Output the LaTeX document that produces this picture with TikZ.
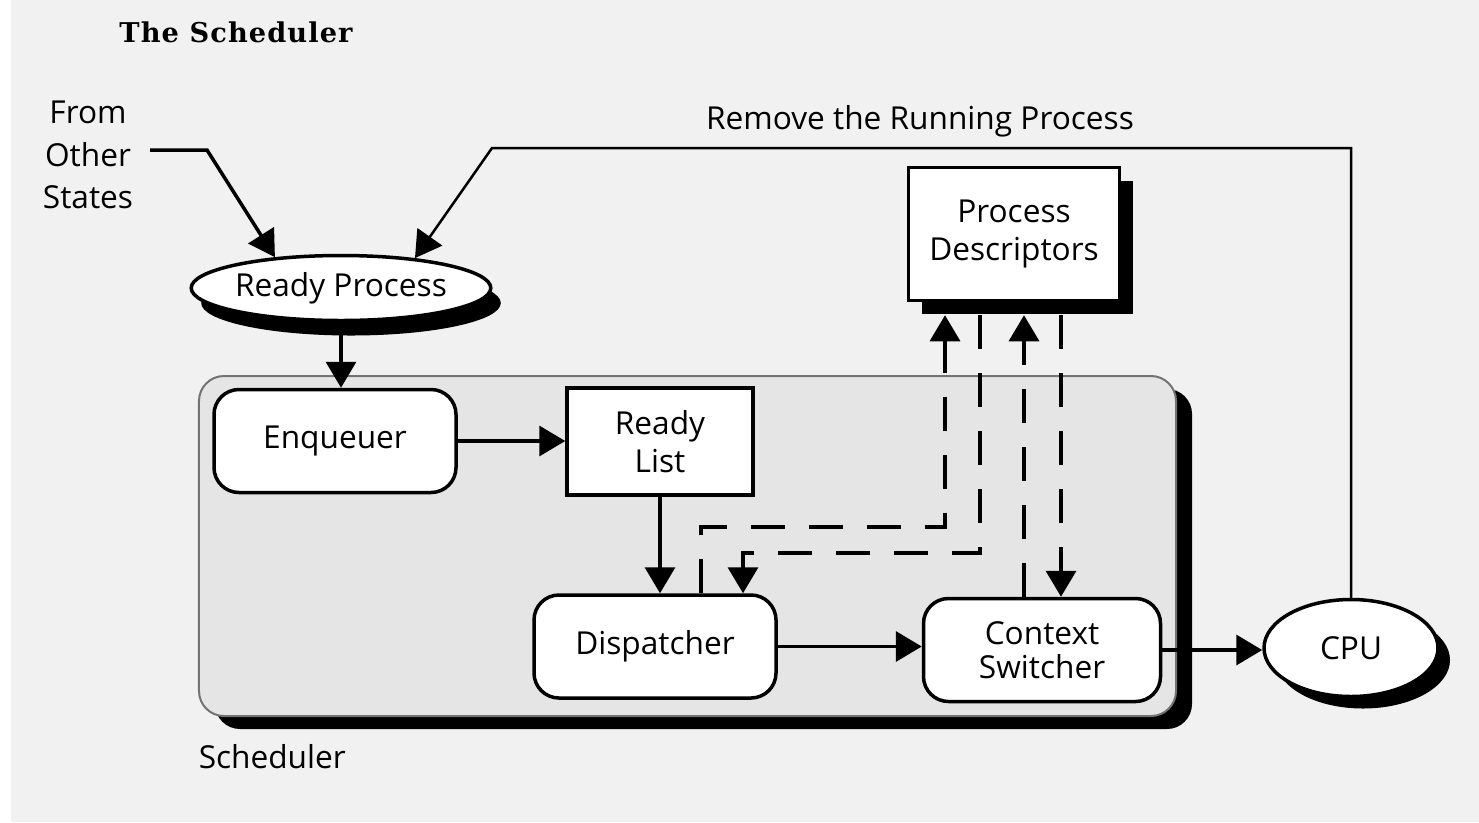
\documentclass[tikz,border=0pt]{standalone}
\usepackage{fontspec}
\setmainfont{Open Sans}
\newfontfamily\titlefont[LetterSpace=4]{DejaVu Serif}
\usetikzlibrary{arrows.meta}
\usetikzlibrary{shapes.geometric}
\usetikzlibrary{shadows}
\definecolor{pg}{RGB}{241,241,241}
\definecolor{bx}{RGB}{229,229,229}

\begin{document}
\begin{tikzpicture}[
    x=0.2mm, y=-0.2mm,
    font=\fontsize{18}{22}\selectfont,
    line width=0.7mm,
    every node/.style={align=center},
    arr/.style={-{Triangle[length=5.2mm,width=6mm]}},
    darr/.style={arr, dash pattern=on 6.8mm off 4.8mm},
    dropped/.style 2 args={
        drop shadow={shadow xshift=#1, shadow yshift=#2, fill=black, opacity=1}
    },
    rbox/.style={
        draw, fill=white, rounded corners=5mm,
        minimum width=48.4mm, minimum height=20.6mm, inner sep=0pt
    },
    sbox/.style={draw, fill=white, rectangle, inner sep=0pt},
    oval/.style={draw, fill=white, ellipse, inner sep=0pt}
]

    \fill[white] (0,0) rectangle (1479,822);
    \fill[pg] (11,0) rectangle (1479,822);
    \useasboundingbox (0,0) rectangle (1479,822);

    \node[font=\titlefont\bfseries\fontsize{15.5}{19}\selectfont] (title)
        at (236,32) {The Scheduler};
    \node[font=\fontsize{18}{24}\selectfont] (others) at (88,155)
        {From\\Other\\States};
    \node (remove) at (920,121) {Remove the Running Process};

    \node[draw=black!55, line width=0.4mm, fill=bx, rounded corners=5mm,
        minimum width=195.4mm, minimum height=68mm,
        dropped={3.2mm}{-2.6mm}] (sched) at (687.5,546) {};
    \node[anchor=west, inner sep=0pt] (schedname) at (197,757) {Scheduler};

    \node[oval, minimum width=59.6mm, minimum height=13mm,
        dropped={2mm}{-3mm}] (ready) at (341,288) {Ready Process};
    \node[sbox, minimum width=42.2mm, minimum height=26.6mm,
        dropped={2.6mm}{-2.6mm}] (pd) at (1014,234) {Process\\Descriptors};
    \node[rbox] (enq) at (335,441) {Enqueuer};
    \node[sbox, minimum width=37.2mm, minimum height=21.4mm]
        (rlist) at (660,441.5) {Ready\\List};
    \node[rbox] (disp) at (655,646.5) {Dispatcher};
    \node[rbox, minimum width=47.4mm] (ctx) at (1042,650)
        {Context\\[-1mm]Switcher};
    \node[oval, minimum width=34.8mm, minimum height=19.4mm,
        dropped={2.4mm}{-2.4mm}] (cpu) at (1351,648) {CPU};

    \coordinate (o1) at (150,150);
    \coordinate (o2) at (207,150);
    \coordinate (r1) at (492,148);
    \draw[arr] (o1) -- (o2) -- (ready.155);
    \draw[arr, line width=0.5mm] (cpu.north) |- (r1) -- (ready.22);

    \draw[arr] (ready.south) -- (ready.south |- enq.north);
    \draw[arr] (enq.east) -- (enq.east -| rlist.west);
    \draw[arr] (rlist.south) -- (rlist.south |- disp.north);
    \draw[arr] (disp.east) -- (disp.east -| ctx.west);
    \draw[arr] (ctx.east) -- (ctx.east -| cpu.west);

    \coordinate (d1) at (701,527);
    \coordinate (d2) at (945,527);
    \coordinate (e1) at (980,553);
    \coordinate (e2) at (743,553);
    \coordinate (f1) at (1024,500);
    \coordinate (g1) at (1061,500);
    \draw[darr] (disp.north -| d1) -- (d1) -- (d2)
        -- ([yshift=-2.6mm]pd.south -| d2);
    \draw[darr] ([yshift=-2.6mm]pd.south -| e1) -- (e1) -- (e2)
        -- (disp.north -| e2);
    \draw[darr] (ctx.north -| f1) -- ([yshift=-2.6mm]pd.south -| f1);
    \draw[darr] ([yshift=-2.6mm]pd.south -| g1) -- (ctx.north -| g1);

\end{tikzpicture}
\end{document}
